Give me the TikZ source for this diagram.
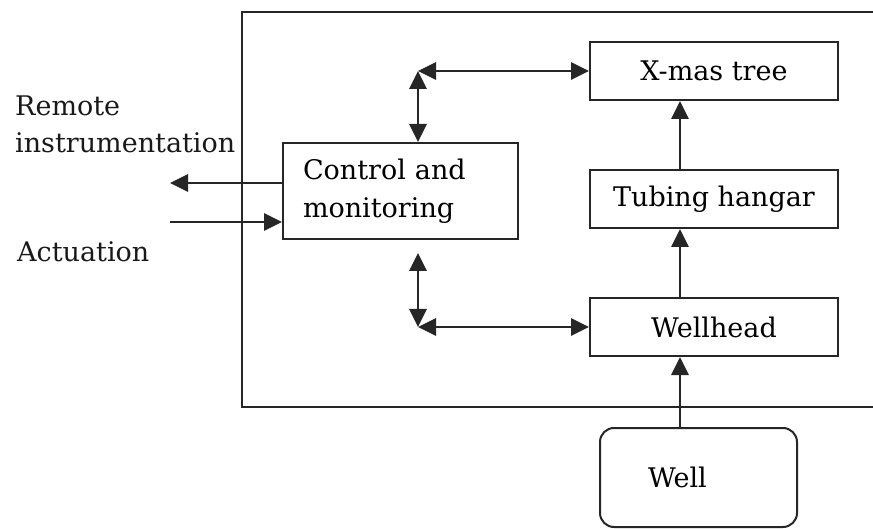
\documentclass[tikz,border=0pt]{standalone}
\usepackage{fontspec}
\setmainfont{DejaVu Serif}
\usetikzlibrary{arrows.meta,calc}

\begin{document}
\begin{tikzpicture}[x=1pt, y=-1pt,
    blk/.style={rectangle, draw=black!85, line width=2pt, minimum width=248pt, minimum height=58pt, inner sep=0pt, font=\fontsize{27}{38}\selectfont},
    wellbox/.style={blk, minimum width=197pt, minimum height=99pt, rounded corners=14pt},
    lbl/.style={inner sep=0pt, align=left, font=\fontsize{27}{37}\selectfont, text=black!90},
    arr/.style={-{Triangle[length=18pt,width=17pt]}, line width=2.9pt, draw=black!85},
    dbl/.style={{Triangle[length=18pt,width=17pt]}-{Triangle[length=18pt,width=17pt]}, line width=2.9pt, draw=black!85}
]
\useasboundingbox (0,0) rectangle (873,529);

% Frame
\draw[black!85, line width=2.4pt] (873,12) -- (242,12) -- (242,407) -- (873,407);

% Blocks
\node[blk] (xmas) at (714,71) {X-mas tree};
\node[blk] (tubing) at (714,199) {Tubing hangar};
\node[blk] (wellhead) at (714,327) {Wellhead};
\node[blk, minimum width=235pt, minimum height=96pt, text width=195pt, align=left] (control) at (400.5,191) {Control and\\monitoring};
\node[wellbox, text width=101pt, align=left] (well) at (698.5,477.5) {Well};

% Outside labels
\node[lbl, anchor=north west] (remote) at (15,96) {Remote\\instrumentation};
\node[lbl, anchor=base west] (actuation) at (17,262) {Actuation};

% Helper points
\coordinate (axis) at (680,0);
\coordinate (upc) at (418,71);
\coordinate (loc) at (418,327);
\coordinate (lotop) at (418,253);
\coordinate (rmt) at (170,183);
\coordinate (act) at (170,222);

% Arrows
\draw[arr] (well.north -| axis) -- (wellhead.south -| axis);
\draw[arr] (wellhead.north -| axis) -- (tubing.south -| axis);
\draw[arr] (tubing.north -| axis) -- (xmas.south -| axis);
\draw[dbl] (upc) -- (upc |- control.north);
\draw[dbl] (upc) -- (xmas.west);
\draw[dbl] (lotop) -- (loc);
\draw[dbl] (loc) -- (wellhead.west);
\draw[arr] (control.west |- rmt) -- (rmt);
\draw[arr] (act) -- (control.west |- act);
\end{tikzpicture}
\end{document}
